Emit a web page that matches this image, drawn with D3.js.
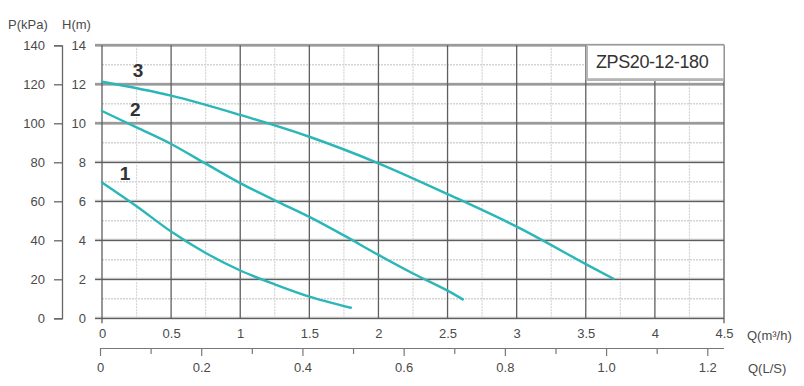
<!DOCTYPE html>
<html>
<head>
<meta charset="utf-8">
<script src="https://cdn.jsdelivr.net/npm/d3@7"></script>
<style>
	body { margin: 0; background: #fff; }
	text { font-family: "Liberation Sans", Arial, sans-serif; }
</style>
</head>
<body>
<script>
// curve data: Q in m3/h, H in m
var q1 = [0, 0.25, 0.5, 0.75, 1, 1.25, 1.5, 1.8];
var h1 = [6.97, 5.75, 4.45, 3.35, 2.45, 1.74, 1.11, 0.54];

var q2 = [0, 0.25, 0.5, 0.75, 1, 1.25, 1.5, 1.75, 2, 2.25, 2.5, 2.61];
var h2 = [10.63, 9.79, 8.94, 7.93, 6.93, 6.05, 5.2, 4.25, 3.25, 2.3, 1.42, 0.97];

var q3 = [0, 0.5, 1, 1.5, 2, 2.5, 3, 3.5, 3.7];
var h3 = [12.13, 11.42, 10.43, 9.31, 7.95, 6.37, 4.7, 2.78, 2.03];

var curveNames = ["1", "2", "3"];
var labelAt = [[0.166, 7.45], [0.24, 10.7], [0.26, 12.73]];

var qTicks = [0, 0.5, 1, 1.5, 2, 2.5, 3, 3.5, 4, 4.5];
var hTicks = [0, 2, 4, 6, 8, 10, 12, 14];
var pTicks = [0, 20, 40, 60, 80, 100, 120, 140];
var lsTicks = [0, 0.2, 0.4, 0.6, 0.8, 1.0, 1.2];
var lsLabels = ["0", "0.2", "0.4", "0.6", "0.8", "1.0", "1.2"];
var lsMinor = [0.1, 0.3, 0.5, 0.7, 0.9, 1.1];
var modelName = "ZPS20-12-180";

var width = 804, height = 386;
var teal = "#2bb6b8";

var x = d3.scaleLinear().domain([0, 4.5]).range([102, 724]);
var y = d3.scaleLinear().domain([0, 14]).range([318.3, 45.3]);
var p = d3.scaleLinear().domain([0, 140]).range([318.3, 45.3]);
var ls = d3.scaleLinear().domain([0, 1.232]).range([100, 723.5]);

var svg = d3.select("body").append("svg")
	.attr("width", width)
	.attr("height", height);

// minor grid (dotted)
var minorQ = d3.range(0.25, 4.5, 0.5);
var minorH = d3.range(1, 14, 2);

svg.append("g").selectAll("line")
	.data(minorQ).enter().append("line")
	.attr("x1", function(d) { return x(d); })
	.attr("x2", function(d) { return x(d); })
	.attr("y1", y(14)).attr("y2", y(0))
	.attr("stroke", "#d4d4d4")
	.attr("stroke-width", 1.2)
	.attr("stroke-dasharray", "2,1");

svg.append("g").selectAll("line")
	.data(minorH).enter().append("line")
	.attr("x1", x(0)).attr("x2", x(4.5))
	.attr("y1", function(d) { return y(d); })
	.attr("y2", function(d) { return y(d); })
	.attr("stroke", "#d4d4d4")
	.attr("stroke-width", 1.5)
	.attr("stroke-dasharray", "2,1");

// major grid
svg.append("g").selectAll("line")
	.data(hTicks).enter().append("line")
	.attr("x1", x(0) - 7).attr("x2", x(4.5))
	.attr("y1", function(d) { return y(d); })
	.attr("y2", function(d) { return y(d); })
	.attr("stroke", "#e2e2e2")
	.attr("stroke-width", 3.5);

svg.append("g").selectAll("line")
	.data(hTicks).enter().append("line")
	.attr("x1", x(0) - 7).attr("x2", x(4.5))
	.attr("y1", function(d) { return y(d); })
	.attr("y2", function(d) { return y(d); })
	.attr("stroke", function(d) { return (d >= 10) ? "#9a9a9a" : "#5e5e5e"; })
	.attr("stroke-width", function(d) { return (d >= 10) ? 2.6 : 1.3; });

svg.append("g").selectAll("line")
	.data(qTicks).enter().append("line")
	.attr("x1", function(d) { return x(d); })
	.attr("x2", function(d) { return x(d); })
	.attr("y1", y(14))
	.attr("y2", function(d) { return (d === 0 || d === 4.5) ? y(0) + 5 : y(0); })
	.attr("stroke", "#5e5e5e")
	.attr("stroke-width", 1.3);

// H labels
svg.append("g").selectAll("text")
	.data(hTicks).enter().append("text")
	.attr("x", 86)
	.attr("y", function(d) { return y(d); })
	.attr("dy", "0.35em")
	.attr("text-anchor", "end")
	.attr("font-size", 13)
	.attr("fill", "#4a4a4a")
	.text(function(d) { return d; });

// P axis
var pAxis = d3.axisLeft(p)
	.tickValues(pTicks)
	.tickSize(8)
	.tickPadding(9);

var pg = svg.append("g")
	.attr("transform", "translate(62,0)")
	.call(pAxis);
pg.selectAll("path, line").attr("stroke", "#666").attr("stroke-width", 1.3);
pg.selectAll("text").attr("font-size", 13).attr("fill", "#4a4a4a")
	.style("font-family", "Liberation Sans, Arial, sans-serif");

svg.append("text").attr("x", 8).attr("y", 29)
	.attr("font-size", 13).attr("fill", "#4a4a4a").text("P(kPa)");
svg.append("text").attr("x", 62).attr("y", 29)
	.attr("font-size", 13).attr("fill", "#4a4a4a").text("H(m)");

// Q (m3/h) axis labels
var qAxis = d3.axisBottom(x)
	.tickValues(qTicks)
	.tickSize(0)
	.tickPadding(10)
	.tickFormat(function(d) { return d; });

var qg = svg.append("g")
	.attr("transform", "translate(0," + y(0) + ")")
	.call(qAxis);
qg.select(".domain").remove();
qg.selectAll("text").attr("font-size", 13).attr("fill", "#4a4a4a")
	.style("font-family", "Liberation Sans, Arial, sans-serif");

svg.append("text").attr("x", 747).attr("y", 335).attr("dy", "0.35em")
	.attr("font-size", 13).attr("fill", "#4a4a4a").text("Q(m³/h)");

// Q (L/S) axis
var lsAxis = d3.axisBottom(ls)
	.tickValues(lsTicks)
	.tickSize(8)
	.tickSizeOuter(0)
	.tickPadding(7)
	.tickFormat(function(d, i) { return lsLabels[i]; });

var lg = svg.append("g")
	.attr("transform", "translate(0,348)")
	.call(lsAxis);
lg.selectAll("path, line").attr("stroke", "#777").attr("stroke-width", 1.2);
lg.selectAll("text").attr("font-size", 13).attr("fill", "#4a4a4a")
	.style("font-family", "Liberation Sans, Arial, sans-serif");

var lsMinorAxis = d3.axisBottom(ls)
	.tickValues(lsMinor)
	.tickSize(6)
	.tickSizeOuter(0)
	.tickFormat("");

var lm = svg.append("g")
	.attr("transform", "translate(0,348)")
	.call(lsMinorAxis);
lm.select(".domain").remove();
lm.selectAll("line").attr("stroke", "#777").attr("stroke-width", 1.2);

svg.append("text").attr("x", 748).attr("y", 368).attr("dy", "0.35em")
	.attr("font-size", 13).attr("fill", "#4a4a4a").text("Q(L/S)");

// model box
svg.append("rect")
	.attr("x", 586).attr("y", 45)
	.attr("width", 138).attr("height", 34)
	.attr("fill", "#fff")
	.attr("stroke", "#9a9a9a")
	.attr("stroke-width", 1.2);
svg.append("line")
	.attr("x1", 587).attr("x2", 587).attr("y1", 46).attr("y2", 79)
	.attr("stroke", "#b5b5b5").attr("stroke-width", 2);
svg.append("line")
	.attr("x1", 586).attr("x2", 724).attr("y1", 80).attr("y2", 80)
	.attr("stroke", "#b5b5b5").attr("stroke-width", 2);
svg.append("text")
	.attr("x", 596).attr("y", 62).attr("dy", "0.35em")
	.attr("font-size", 18)
	.attr("fill", "#333")
	.attr("letter-spacing", -0.4)
	.text(modelName);

// pump curves
var curves = [
	{ name: "1", q: q1, h: h1 },
	{ name: "2", q: q2, h: h2 },
	{ name: "3", q: q3, h: h3 }
];

var line = d3.line()
	.x(function(d) { return x(d[0]); })
	.y(function(d) { return y(d[1]); })
	.curve(d3.curveCatmullRom.alpha(0.5));

svg.append("g").selectAll("path")
	.data(curves).enter().append("path")
	.attr("d", function(c) { return line(c.q.map(function(v, i) { return [v, c.h[i]]; })); })
	.attr("fill", "none")
	.attr("stroke", teal)
	.attr("stroke-width", 2.4)
	.attr("stroke-linecap", "round");

svg.append("g").selectAll("text")
	.data(curveNames).enter().append("text")
	.attr("x", function(d, i) { return x(labelAt[i][0]); })
	.attr("y", function(d, i) { return y(labelAt[i][1]); })
	.attr("dy", "0.35em")
	.attr("text-anchor", "middle")
	.attr("font-size", 19)
	.attr("font-weight", "bold")
	.attr("fill", "#333")
	.text(function(d) { return d; });
</script>
</body>
</html>
